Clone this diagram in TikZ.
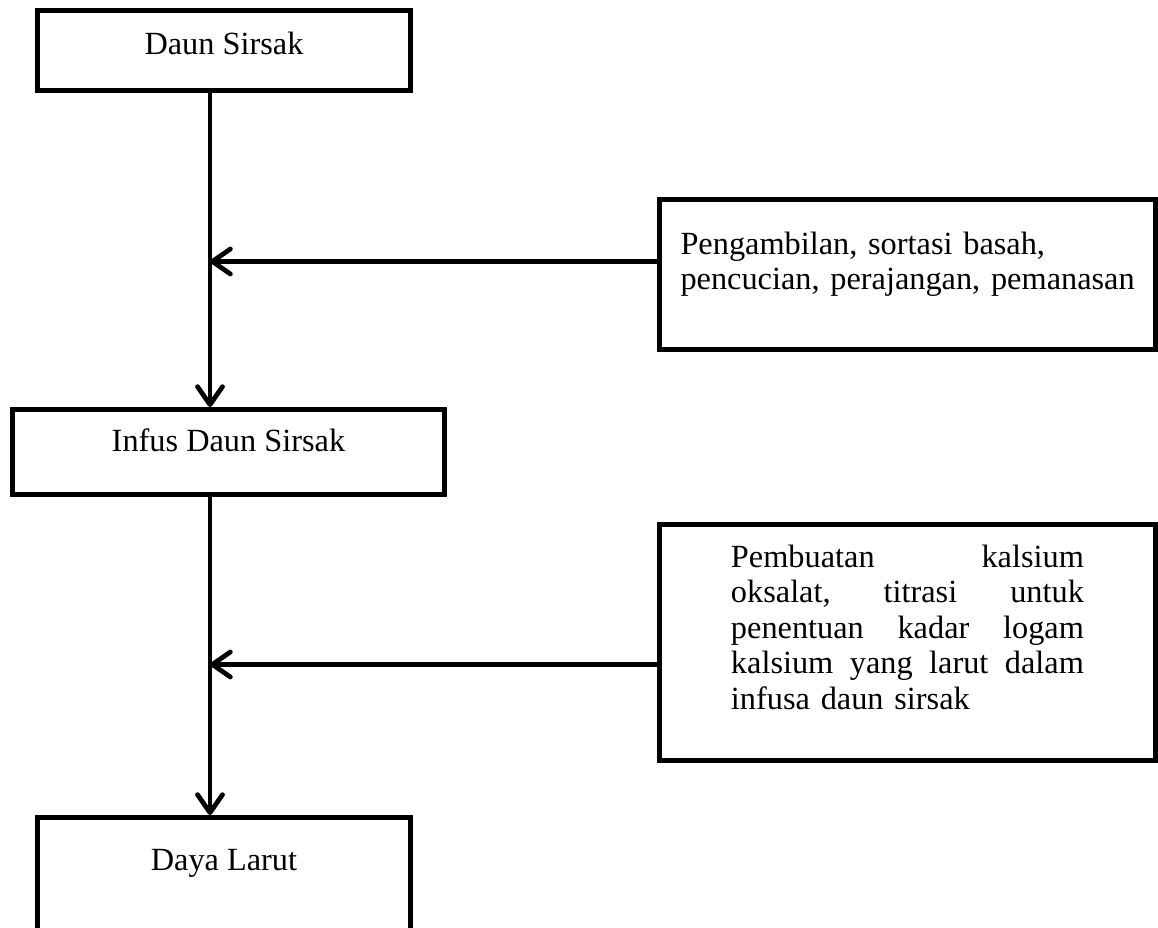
\documentclass[tikz,border=0pt]{standalone}
\usepackage{fontspec}
\setmainfont{Liberation Serif}
\usetikzlibrary{arrows,arrows.meta,calc}
\newcommand{\baris}[1]{\leavevmode\hbox to 7.06cm{#1}}

\begin{document}
\begin{tikzpicture}[x=0.02cm,y=-0.02cm,
		kotak/.style={draw,rectangle,line width=0.1cm,inner ysep=0pt,anchor=north west},
		fleche/.style={line width=0.095cm,-{Straight Barb[length=0.36cm,width=0.5cm,round]}},
		every node/.style={font=\fontsize{18.4}{20.2}\selectfont}]
		\useasboundingbox (0,0) rectangle (1158,927);
		% Boites de gauche
		\node[kotak,minimum width=7.46cm,text height=0.88cm,text depth=0.72cm] (daun) at (35,8) {Daun Sirsak};
		\node[kotak,minimum width=8.64cm,text height=0.84cm,text depth=0.86cm] (infus) at (10,407) {Infus Daun Sirsak};
		\node[kotak,minimum width=7.46cm,text height=1.06cm,text depth=2cm] (daya) at (35,815) {Daya Larut};
		% Boites de droite
		\node[kotak,align=left,text width=9.08cm,inner xsep=0.42cm,text height=1.1cm,text depth=1.9cm] (proses1) at (657,197) {\mbox{Pengambilan, sortasi basah,}\\\mbox{pencucian, perajangan, pemanasan}};
		\node[kotak,align=left,text width=7.06cm,inner xsep=1.43cm,text height=0.86cm,text depth=3.86cm] (proses2) at (657,522) {\baris{Pembuatan\hfill kalsium}\\\baris{oksalat,\hfill titrasi\hfill untuk}\\\baris{penentuan\hfill kadar\hfill logam}\\\baris{kalsium\hfill yang\hfill larut\hfill dalam}\\infusa daun sirsak};
		% Axe vertical
		\coordinate (poros) at (210,0);
		\draw[fleche] (daun.south -| poros) -- (infus.north -| poros);
		\draw[fleche] (infus.south -| poros) -- (daya.north -| poros);
		% Fleches horizontales
		\draw[fleche] ([yshift=0.26cm]proses1.west) -- ([yshift=0.26cm]proses1.west -| poros);
		\draw[fleche] ([yshift=-0.44cm]proses2.west) -- ([yshift=-0.44cm]proses2.west -| poros);
\end{tikzpicture}
\end{document}
